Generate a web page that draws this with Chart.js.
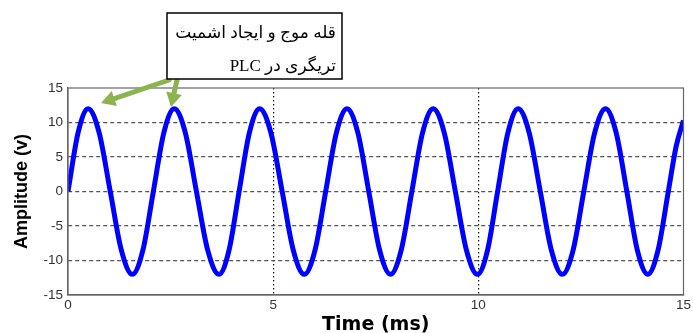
<!DOCTYPE html>
<html>
<head>
<meta charset="utf-8">
<script src="https://cdn.jsdelivr.net/npm/chart.js@4/dist/chart.umd.min.js"></script>
<style>
  body { margin: 0; background: #fff; }
  canvas { display: block; }
</style>
</head>
<body>
<canvas id="sineChart" width="693" height="333"></canvas>
<script>
// values (time in ms, amplitude in V)
const timeMs = [
  0, 0.245, 0.49, 0.76, 1.03, 1.30, 1.57, 1.825, 2.08, 2.335,
  2.59, 2.86, 3.13, 3.405, 3.68, 3.925, 4.17, 4.42, 4.67, 4.945,
  5.22, 5.49, 5.76, 6.02, 6.28, 6.54, 6.80, 7.065, 7.33, 7.595,
  7.86, 8.12, 8.38, 8.64, 8.90, 9.17, 9.44, 9.71, 9.98, 10.225,
  10.47, 10.72, 10.97, 11.24, 11.51, 11.78, 12.05, 12.31, 12.57, 12.835,
  13.10, 13.36, 13.62, 13.875, 14.13, 14.38, 14.63, 14.82, 15
];
const amplitudeV = [
  0, 8.5, 12, 8.5, 0, -8.5, -12, -8.5, 0, 8.5,
  12, 8.5, 0, -8.5, -12, -8.5, 0, 8.5, 12, 8.5,
  0, -8.5, -12, -8.5, 0, 8.5, 12, 8.5, 0, -8.5,
  -12, -8.5, 0, 8.5, 12, 8.5, 0, -8.5, -12, -8.5,
  0, 8.5, 12, 8.5, 0, -8.5, -12, -8.5, 0, 8.5,
  12, 8.5, 0, -8.5, -12, -8.5, 0, 6.5, 10.3
];
const xTicks = [0, 5, 10, 15];
const yTicks = [-15, -10, -5, 0, 5, 10, 15];
const calloutLines = ['قله موج و ایجاد اشمیت', 'تریگری در PLC'];

const points = timeMs.map((t, i) => ({ x: t, y: amplitudeV[i] }));

// frame on top and right, like the matlab box
const boxFrame = {
  id: 'boxFrame',
  afterDraw(chart) {
    const { ctx, chartArea: a } = chart;
    ctx.save();
    ctx.strokeStyle = '#666';
    ctx.lineWidth = 1.2;
    ctx.strokeRect(a.left, a.top, a.right - a.left, a.bottom - a.top);
    ctx.restore();
  }
};

function arrow(ctx, x1, y1, x2, y2) {
  const ang = Math.atan2(y2 - y1, x2 - x1);
  const len = 14, half = 8;
  const bx = x2 - len * Math.cos(ang), by = y2 - len * Math.sin(ang);
  ctx.beginPath();
  ctx.moveTo(x1, y1);
  ctx.lineTo(bx, by);
  ctx.stroke();
  ctx.beginPath();
  ctx.moveTo(x2, y2);
  ctx.lineTo(bx + half * Math.sin(ang), by - half * Math.cos(ang));
  ctx.lineTo(bx - half * Math.sin(ang), by + half * Math.cos(ang));
  ctx.closePath();
  ctx.fill();
}

const callout = {
  id: 'callout',
  afterDraw(chart) {
    const ctx = chart.ctx;
    ctx.save();
    ctx.strokeStyle = '#8db350';
    ctx.fillStyle = '#8db350';
    ctx.lineWidth = 5;
    ctx.lineCap = 'round';
    arrow(ctx, 169, 80, 101, 103);
    arrow(ctx, 177, 80, 171, 107);

    ctx.fillStyle = '#fff';
    ctx.fillRect(167, 13, 175, 66);
    ctx.strokeStyle = '#000';
    ctx.lineWidth = 1.5;
    ctx.strokeRect(167, 13, 175, 66);

    ctx.fillStyle = '#000';
    ctx.font = '17px "Liberation Serif", "DejaVu Sans", serif';
    ctx.direction = 'rtl';
    ctx.textAlign = 'right';
    ctx.textBaseline = 'alphabetic';
    ctx.fillText(calloutLines[0], 336, 38);
    ctx.fillText(calloutLines[1], 336, 71);
    ctx.restore();
  }
};

new Chart(document.getElementById('sineChart'), {
  type: 'line',
  data: {
    datasets: [{
      data: points,
      borderColor: '#0000ff',
      borderWidth: 5,
      pointRadius: 0,
      cubicInterpolationMode: 'monotone',
      fill: false
    }]
  },
  options: {
    responsive: false,
    animation: false,
    layout: { padding: { top: 88, right: 4.5, left: 0, bottom: 0 } },
    plugins: { legend: { display: false }, tooltip: { enabled: false } },
    scales: {
      x: {
        type: 'linear',
        min: 0,
        max: 15,
        afterFit(s) { s.height = 38; },
        afterBuildTicks(s) { s.ticks = xTicks.map(v => ({ value: v })); },
        ticks: {
          color: '#333',
          padding: 2,
          font: { family: 'Liberation Sans', size: 13.5 }
        },
        grid: {
          drawTicks: false,
          lineWidth: 1.2,
          color: c => (c.tick && c.tick.value > 0 && c.tick.value < 15) ? '#111' : 'rgba(0,0,0,0)'
        },
        border: { color: '#666', width: 1.2, dash: [1.5, 2.5] },
        title: {
          display: true,
          text: 'Time (ms)',
          color: '#000',
          font: { family: 'DejaVu Sans', size: 19, weight: 'bold', lineHeight: 0.85 },
          padding: { top: 0, bottom: 0 }
        }
      },
      y: {
        type: 'linear',
        min: -15,
        max: 15,
        afterFit(s) { s.width = 68; },
        afterBuildTicks(s) { s.ticks = yTicks.map(v => ({ value: v })); },
        ticks: {
          color: '#333',
          padding: 5,
          font: { family: 'Liberation Sans', size: 13.5 }
        },
        grid: {
          drawTicks: false,
          lineWidth: 1.2,
          color: c => (c.tick && c.tick.value > -15 && c.tick.value < 15) ? '#555' : 'rgba(0,0,0,0)'
        },
        border: { color: '#666', width: 1.2, dash: [4, 3] },
        title: {
          display: true,
          text: 'Amplitude (v)',
          color: '#000',
          font: { family: 'Liberation Sans', size: 18, weight: 'bold', lineHeight: 1.2 },
          padding: { top: 11, bottom: 0 }
        }
      }
    }
  },
  plugins: [boxFrame, callout]
});
</script>
</body>
</html>
